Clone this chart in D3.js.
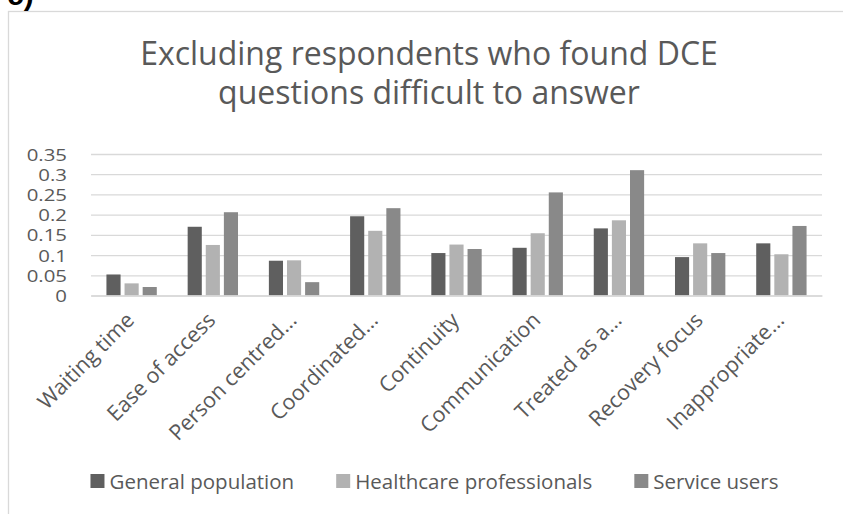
<!DOCTYPE html>
<html>
<head>
<meta charset="utf-8">
<script src="https://cdn.jsdelivr.net/npm/d3@7"></script>
<style>
	body { margin: 0; background: #fff; }
	text { font-family: "Open Sans", "Noto Sans", sans-serif; fill: #595959; }
</style>
</head>
<body>
<div class="chart"></div>
<script>
(function() {

	const categories = ["Waiting time", "Ease of access", "Person centred...", "Coordinated...", "Continuity",
		"Communication", "Treated as a...", "Recovery focus", "Inappropriate..."];
	const seriesNames = ["General population", "Healthcare professionals", "Service users"];
	const generalPopulation = [0.052, 0.170, 0.086, 0.196, 0.105, 0.118, 0.166, 0.095, 0.129];
	const healthcareProfessionals = [0.030, 0.125, 0.087, 0.160, 0.126, 0.154, 0.186, 0.129, 0.102];
	const serviceUsers = [0.021, 0.206, 0.033, 0.216, 0.115, 0.255, 0.310, 0.105, 0.172];
	const yTicks = [0, 0.05, 0.1, 0.15, 0.2, 0.25, 0.3, 0.35];
	const yTickLabels = ["0", "0.05", "0.1", "0.15", "0.2", "0.25", "0.3", "0.35"];
	const titleLines = ["Excluding respondents who found DCE", "questions difficult to answer"];

	const colors = ["#5f5f5f", "#b2b2b2", "#898989"];
	const values = [generalPopulation, healthcareProfessionals, serviceUsers];

	const width = 843,
		height = 514,
		plot = {left: 91, right: 822, top: 154, bottom: 295.5};

	const svg = d3.select(".chart").append("svg")
		.attr("width", width)
		.attr("height", height);

	// chart frame (runs off the right and bottom edges)
	svg.append("rect")
		.attr("x", 8.5)
		.attr("y", 11.5)
		.attr("width", 900)
		.attr("height", 600)
		.attr("fill", "none")
		.attr("stroke", "#d9d9d9")
		.attr("stroke-width", 1.3);

	svg.append("text")
		.attr("x", 7)
		.attr("y", 5)
		.style("font-family", "Liberation Sans, Arial, sans-serif")
		.style("font-weight", "bold")
		.style("font-size", "30px")
		.style("fill", "#000")
		.text("c)");

	svg.selectAll(".title")
		.data(titleLines)
		.enter().append("text")
		.attr("class", "title")
		.attr("x", 429)
		.attr("y", (d, i) => 65 + i * 39)
		.attr("text-anchor", "middle")
		.style("font-size", "32px")
		.text(d => d);

	const x0 = d3.scaleBand()
		.domain(categories)
		.range([plot.left, plot.right])
		.paddingInner(0.38)
		.paddingOuter(0.19);

	const x1 = d3.scaleBand()
		.domain(d3.range(seriesNames.length))
		.range([0, x0.bandwidth()])
		.paddingInner(0.22);

	const y = d3.scaleLinear()
		.domain([0, 0.35])
		.range([plot.bottom, plot.top]);

	const yAxis = d3.axisLeft(y)
		.tickValues(yTicks)
		.tickFormat((d, i) => yTickLabels[i])
		.tickSize(-(plot.right - plot.left));

	const gy = svg.append("g")
		.attr("class", "y axis")
		.attr("transform", "translate(" + plot.left + ",0)")
		.call(yAxis);

	gy.select(".domain").remove();
	gy.selectAll("line")
		.attr("stroke", "#d9d9d9")
		.attr("stroke-width", 1.3);
	// labels are wide and short in the original, so stretch them sideways
	gy.selectAll("text")
		.attr("x", -20)
		.attr("dy", "0.36em")
		.attr("transform", "scale(1.2,1)")
		.style("font-size", "17px");

	const groups = svg.selectAll(".group")
		.data(categories)
		.enter().append("g")
		.attr("class", "group")
		.attr("transform", d => "translate(" + x0(d) + ",0)");

	groups.selectAll("rect")
		.data((d, i) => values.map((s, k) => ({k: k, v: s[i]})))
		.enter().append("rect")
		.attr("x", d => x1(d.k))
		.attr("width", x1.bandwidth())
		.attr("y", d => y(d.v))
		.attr("height", d => y(0) - y(d.v))
		.attr("fill", d => colors[d.k]);

	const xAxis = d3.axisBottom(x0)
		.tickSize(0)
		.tickPadding(0);

	const gx = svg.append("g")
		.attr("class", "x axis")
		.attr("transform", "translate(0," + plot.bottom + ")")
		.call(xAxis);

	gx.select(".domain")
		.attr("stroke", "#d9d9d9")
		.attr("stroke-width", 1.3);

	gx.selectAll("text")
		.attr("y", 0)
		.attr("dy", 0)
		.style("text-anchor", "end")
		.style("font-size", "21.5px")
		.attr("transform", "translate(4,26) rotate(-45)");

	// legend
	const legend = svg.append("g")
		.attr("class", "legend");

	const items = legend.selectAll(".legend-item")
		.data(seriesNames)
		.enter().append("g")
		.attr("class", "legend-item");

	items.append("rect")
		.attr("y", 474)
		.attr("width", 14)
		.attr("height", 14)
		.attr("fill", (d, i) => colors[i]);

	items.append("text")
		.attr("x", 19)
		.attr("y", 489)
		.style("font-size", "20.5px")
		.text(d => d);

	let offset = 0;
	const gap = 42;
	items.each(function() {
		const item = d3.select(this);
		item.attr("transform", "translate(" + offset + ",0)");
		offset += 19 + item.select("text").node().getComputedTextLength() + gap;
	});
	const total = offset - gap;
	legend.attr("transform", "translate(" + (434.5 - total / 2) + ",0)");

})();
</script>
</body>
</html>
